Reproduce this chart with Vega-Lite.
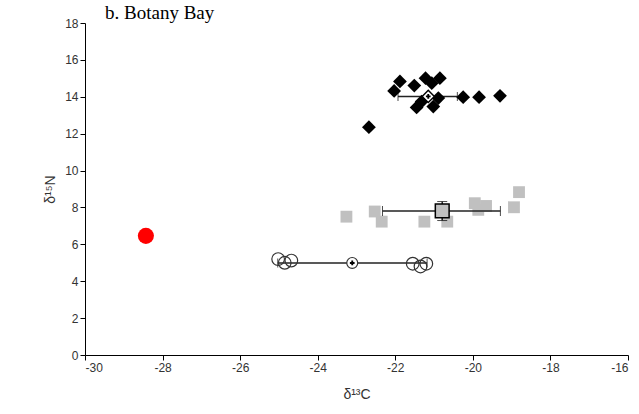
{
  "$schema": "https://vega.github.io/schema/vega-lite/v6.json",
  "width": 543,
  "height": 332,
  "autosize": {"type": "none"},
  "padding": {"left": 85, "top": 23, "right": 11, "bottom": 59},
  "background": "white",
  "title": {"text": "b. Botany Bay", "anchor": "start", "frame": "group", "font": "Liberation Serif", "fontSize": 19, "fontWeight": "normal", "color": "black", "dx": 20, "offset": -6},
  "config": {
    "view": {"stroke": null},
    "axis": {"grid": false, "domainColor": "black", "tickColor": "black", "labelFont": "Liberation Sans", "labelFontSize": 12, "labelColor": "#333333", "titleFont": "Liberation Sans", "titleFontSize": 14, "titleFontWeight": "normal", "titleColor": "#333333", "tickSize": 5, "labelExpr": "'' + datum.value"}
  },
  "datasets": {
    "pts": [
      {"g": "black", "c": -22.03, "n": 14.32},
      {"g": "black", "c": -21.88, "n": 14.83},
      {"g": "black", "c": -21.51, "n": 14.61},
      {"g": "black", "c": -21.22, "n": 15.01},
      {"g": "black", "c": -21.06, "n": 14.74},
      {"g": "black", "c": -20.85, "n": 15.01},
      {"g": "black", "c": -21.45, "n": 13.42},
      {"g": "black", "c": -21.32, "n": 13.74},
      {"g": "black", "c": -21.02, "n": 13.47},
      {"g": "black", "c": -20.89, "n": 13.93},
      {"g": "black", "c": -20.25, "n": 13.98},
      {"g": "black", "c": -19.84, "n": 13.98},
      {"g": "black", "c": -19.3, "n": 14.05},
      {"g": "black", "c": -22.68, "n": 12.35},
      {"g": "gray", "c": -23.26, "n": 7.5},
      {"g": "gray", "c": -22.53, "n": 7.78},
      {"g": "gray", "c": -22.35, "n": 7.23},
      {"g": "gray", "c": -21.25, "n": 7.23},
      {"g": "gray", "c": -20.66, "n": 7.23},
      {"g": "gray", "c": -19.95, "n": 8.23},
      {"g": "gray", "c": -19.66, "n": 8.08},
      {"g": "gray", "c": -19.86, "n": 7.87},
      {"g": "gray", "c": -18.94, "n": 8.01},
      {"g": "gray", "c": -18.81, "n": 8.83},
      {"g": "open", "c": -25.02, "n": 5.2},
      {"g": "open", "c": -24.85, "n": 5.0},
      {"g": "open", "c": -24.68, "n": 5.12},
      {"g": "open", "c": -21.55, "n": 4.95},
      {"g": "open", "c": -21.35, "n": 4.8},
      {"g": "open", "c": -21.2, "n": 4.95},
      {"g": "red", "c": -28.43, "n": 6.46}
    ],
    "means": [
      {"g": "black", "c": -21.15, "n": 14.02, "clo": -21.93, "chi": -20.4, "nlo": 13.65, "nhi": 14.4},
      {"g": "gray", "c": -20.79, "n": 7.81, "clo": -22.33, "chi": -19.29, "nlo": 7.29, "nhi": 8.32},
      {"g": "open", "c": -23.11, "n": 4.99, "clo": -25.03, "chi": -21.18, "nlo": 4.9, "nhi": 5.08}
    ]
  },
  "encoding": {
    "x": {"field": "c", "type": "quantitative", "title": "δ¹³C", "scale": {"domain": [-30, -16], "nice": false, "zero": false}, "axis": {"values": [-30, -28, -26, -24, -22, -20, -18, -16], "titlePadding": 14}},
    "y": {"field": "n", "type": "quantitative", "title": "δ¹⁵N", "scale": {"domain": [0, 18], "nice": false, "zero": false}, "axis": {"values": [0, 2, 4, 6, 8, 10, 12, 14, 16, 18], "titlePadding": 7}}
  },
  "layer": [
    {
      "data": {"name": "means"},
      "transform": [{"filter": "datum.g === 'black'"}],
      "mark": {"type": "errorbar", "ticks": {"size": 9, "color": "black"}, "rule": {"strokeWidth": 1.5, "color": "#222222"}},
      "encoding": {
        "x": {"field": "clo", "type": "quantitative", "title": "δ¹³C", "scale": {"domain": [-30, -16], "nice": false, "zero": false}, "axis": {"values": [-30, -28, -26, -24, -22, -20, -18, -16], "titlePadding": 14}},
        "x2": {"field": "chi"}
      }
    },
    {
      "data": {"name": "pts"},
      "transform": [{"filter": "datum.g === 'black'"}],
      "mark": {"type": "point", "shape": "diamond", "filled": true, "color": "black", "size": 190, "opacity": 1}
    },
    {
      "data": {"name": "means"},
      "transform": [{"filter": "datum.g === 'black'"}],
      "mark": {"type": "point", "shape": "diamond", "filled": true, "fill": "white", "stroke": "black", "strokeWidth": 1.5, "size": 150, "opacity": 1}
    },
    {
      "data": {"name": "pts"},
      "transform": [{"filter": "datum.g === 'gray'"}],
      "mark": {"type": "square", "color": "#c0c0c0", "size": 140, "opacity": 1}
    },
    {
      "data": {"name": "means"},
      "transform": [{"filter": "datum.g === 'gray'"}],
      "mark": {"type": "errorbar", "ticks": {"size": 10, "color": "black"}, "rule": {"strokeWidth": 1.5, "color": "#222222"}},
      "encoding": {
        "x": {"field": "clo", "type": "quantitative", "title": "δ¹³C", "scale": {"domain": [-30, -16], "nice": false, "zero": false}, "axis": {"values": [-30, -28, -26, -24, -22, -20, -18, -16], "titlePadding": 14}},
        "x2": {"field": "chi"}
      }
    },
    {
      "data": {"name": "means"},
      "transform": [{"filter": "datum.g === 'gray'"}],
      "mark": {"type": "errorbar", "ticks": {"size": 10, "color": "black"}, "rule": {"strokeWidth": 1.5, "color": "#222222"}},
      "encoding": {
        "y": {"field": "nlo", "type": "quantitative", "title": "δ¹⁵N", "scale": {"domain": [0, 18], "nice": false, "zero": false}, "axis": {"values": [0, 2, 4, 6, 8, 10, 12, 14, 16, 18], "titlePadding": 7}},
        "y2": {"field": "nhi"}
      }
    },
    {
      "data": {"name": "means"},
      "transform": [{"filter": "datum.g === 'gray'"}],
      "mark": {"type": "square", "fill": "#c0c0c0", "stroke": "black", "strokeWidth": 1.5, "size": 190, "opacity": 1}
    },
    {
      "data": {"name": "means"},
      "transform": [{"filter": "datum.g === 'open'"}],
      "mark": {"type": "errorbar", "ticks": {"size": 9, "color": "black"}, "rule": {"strokeWidth": 1.5, "color": "#222222"}},
      "encoding": {
        "x": {"field": "clo", "type": "quantitative", "title": "δ¹³C", "scale": {"domain": [-30, -16], "nice": false, "zero": false}, "axis": {"values": [-30, -28, -26, -24, -22, -20, -18, -16], "titlePadding": 14}},
        "x2": {"field": "chi"}
      }
    },
    {
      "data": {"name": "pts"},
      "transform": [{"filter": "datum.g === 'open'"}],
      "mark": {"type": "point", "shape": "circle", "filled": false, "stroke": "#333333", "strokeWidth": 1.2, "size": 160, "opacity": 1}
    },
    {
      "data": {"name": "means"},
      "transform": [{"filter": "datum.g === 'open'"}],
      "mark": {"type": "point", "shape": "circle", "filled": true, "fill": "white", "stroke": "#333333", "strokeWidth": 1.2, "size": 120, "opacity": 1}
    },
    {
      "data": {"name": "means"},
      "transform": [{"filter": "datum.g !== 'gray'"}],
      "mark": {"type": "point", "shape": "cross", "filled": true, "color": "black", "size": 22, "opacity": 1}
    },
    {
      "data": {"name": "pts"},
      "transform": [{"filter": "datum.g === 'red'"}],
      "mark": {"type": "circle", "color": "#ff0000", "size": 260, "opacity": 1}
    }
  ]
}
